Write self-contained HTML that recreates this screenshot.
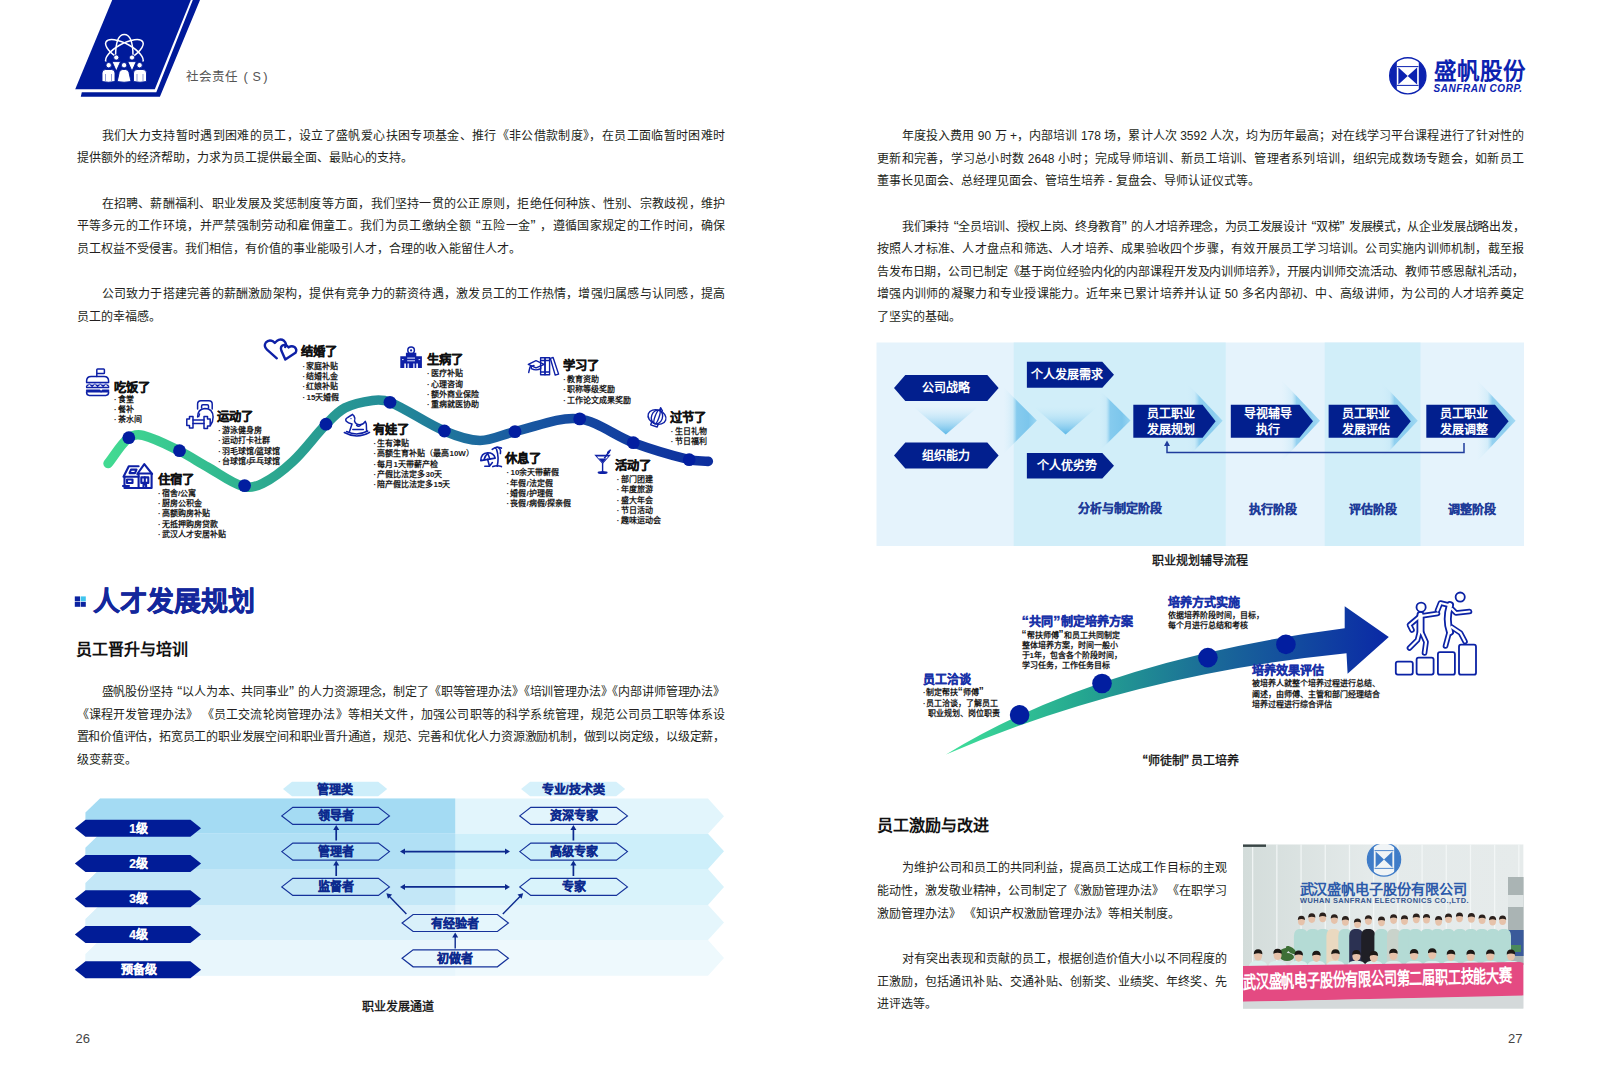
<!DOCTYPE html>
<html lang="zh-CN"><head><meta charset="utf-8">
<style>
html,body{margin:0;padding:0;background:#fff;}
body{width:1600px;height:1085px;position:relative;overflow:hidden;font-family:"Liberation Sans",sans-serif;}
.ln{position:absolute;line-height:20px;white-space:nowrap;}
.t{position:absolute;white-space:nowrap;}
.ql{display:inline-block;width:0.64em;font-size:1.25em;line-height:1px;text-align:right;text-align-last:right;}
.qr{display:inline-block;width:0.64em;font-size:1.25em;line-height:1px;text-align:left;text-align-last:left;}
.hv{-webkit-text-stroke:0.25px currentColor;}
.it{position:absolute;white-space:nowrap;font-size:8px;line-height:12px;color:#1a1a1a;font-weight:bold;}
.it .ql,.it .qr,.hd .ql,.hd .qr{width:0.5em;}
svg.ov{position:absolute;left:0;top:0;}
</style></head><body>

<svg class="ov" width="1600" height="1085" viewBox="0 0 1600 1085"><defs>
<linearGradient id="gWave" x1="108" y1="0" x2="710" y2="0" gradientUnits="userSpaceOnUse">
 <stop offset="0" stop-color="#42da92"/><stop offset="0.15" stop-color="#35c090"/><stop offset="0.3" stop-color="#2aa390"/>
 <stop offset="0.48" stop-color="#238a98"/><stop offset="0.66" stop-color="#1a5ea0"/><stop offset="0.8" stop-color="#1446a0"/><stop offset="1" stop-color="#0d2e9e"/>
</linearGradient>
<linearGradient id="gArrow" x1="946" y1="0" x2="1390" y2="0" gradientUnits="userSpaceOnUse">
 <stop offset="0" stop-color="#3fe09a"/><stop offset="0.3" stop-color="#25a890"/>
 <stop offset="0.6" stop-color="#1a6a98"/><stop offset="1" stop-color="#0a28a6"/>
</linearGradient>
<linearGradient id="gTriDown" x1="0" y1="0" x2="0" y2="1">
 <stop offset="0" stop-color="#bfe6f7" stop-opacity="0"/><stop offset="1" stop-color="#5db8e8"/>
</linearGradient>
<linearGradient id="gChev" x1="0" y1="0" x2="1" y2="0">
 <stop offset="0" stop-color="#d8f0fa" stop-opacity="0"/><stop offset="0.28" stop-color="#c4e7f7" stop-opacity="0.6"/><stop offset="0.4" stop-color="#86cbee"/><stop offset="0.75" stop-color="#7cc6ec"/><stop offset="1" stop-color="#9ad6f2"/>
</linearGradient>
<clipPath id="cLogo"><circle cx="1407.8" cy="75.8" r="18"/></clipPath>
</defs><polygon points="112.2,0 190.8,0 154.8,89.2 75.2,89.2" fill="#001a9a"/><polygon points="192.8,0 200,0 159.9,96.8 80.8,96.8 81.8,92.3 156.3,92.3" fill="#001a9a"/><g fill="none" stroke="#fff" stroke-width="1.5"><ellipse cx="124.4" cy="52" rx="21" ry="8.3" transform="rotate(29 124.4 52)"/><ellipse cx="124.4" cy="52" rx="21" ry="8.3" transform="rotate(-29 124.4 52)"/><path d="M115.6,56 Q115.6,34.5 124.3,34.5 Q133,34.5 133,56"/></g><rect x="100" y="61.5" width="50" height="25" fill="#001a9a"/><rect x="118" y="54.5" width="12.5" height="8" fill="#001a9a"/><g fill="#fff" stroke="#001a9a" stroke-width="0.9"><circle cx="116.3" cy="57.5" r="2.6"/><circle cx="132" cy="57.5" r="2.6"/><path d="M112,61.6 h8.6 l-4.3,9.5z"/><path d="M127.7,61.6 h8.6 l-4.3,9.5z"/><circle cx="108.7" cy="65.2" r="2.7"/><circle cx="124.1" cy="65.2" r="2.7"/><circle cx="139.6" cy="65.2" r="2.7"/><path d="M102,81.5 v-8.5 q0,-3.5 3.5,-3.5 h6 q3.5,0 3.5,3.5 v8.5 q-6.5,1.5 -13,0z"/><path d="M117.2,81.5 l2,-9 q0.8,-3 3.5,-3 h2.8 q2.7,0 3.5,3 l2,9 q-6.9,1.5 -13.8,0z"/><path d="M133.5,81.5 v-8.5 q0,-3.5 3.5,-3.5 h6 q3.5,0 3.5,3.5 v8.5 q-6.5,1.5 -13,0z"/></g><g stroke="#001a9a" stroke-width="0.7" opacity="0.6"><line x1="105.5" y1="74" x2="105.5" y2="81"/><line x1="111.5" y1="74" x2="111.5" y2="81"/><line x1="137" y1="74" x2="137" y2="81"/><line x1="143" y1="74" x2="143" y2="81"/></g><g clip-path="url(#cLogo)"><rect x="1388" y="56" width="8.8" height="40" fill="#0c22b0"/><rect x="1418.8" y="56" width="9" height="40" fill="#0c22b0"/></g><circle cx="1407.8" cy="75.8" r="18.1" fill="none" stroke="#0c22b0" stroke-width="1.4"/><g stroke="#0c22b0" stroke-width="1"><line x1="1397" y1="66.6" x2="1418.5" y2="66.6"/><line x1="1397" y1="85.4" x2="1418.5" y2="85.4"/></g><polygon points="1398.4,67.6 1407.7,76 1398.4,84.4" fill="#0c22b0"/><polygon points="1417.1,67.6 1407.7,76 1417.1,84.4" fill="#0c22b0"/><rect x="74.8" y="596.4" width="5.2" height="4.9" fill="#0b22a0"/><rect x="80.6" y="596.4" width="5.2" height="4.9" fill="#3fc4ee"/><rect x="74.8" y="601.9" width="5.2" height="4.9" fill="#0b22a0"/><rect x="80.6" y="601.9" width="5.2" height="4.9" fill="#0b22a0"/><path d="M108.1,463.5 C114.9,455.0 120.5,444.4 128.5,437.9 C132.1,435.0 138.4,434.2 143,435.4 C155.4,438.6 167.7,445.2 179.6,451 C189.2,455.7 198.1,461.8 207.5,467 C219.3,473.6 230.7,482.7 243,486.4 C249.0,488.2 256.8,486.4 262.5,483.5 C273.4,478.1 283.7,470.0 292.8,461.5 C304.9,450.3 314.4,436.3 326,424.4 C331.8,418.4 337.7,411.6 345,407.9 C353.3,403.6 363.3,401.6 372.6,400.4 C378.2,399.7 384.6,399.9 389.8,402.1 C408.5,410.1 425.6,423.0 444.4,431 C455.6,435.8 468.1,440.4 480,440.5 C491.6,440.6 503.2,434.2 515,431.6 C535.9,427.0 557.6,416.9 578,418.8 C597.1,420.6 614.5,435.8 633.3,442.7 C651.5,449.4 670.4,455.0 689.2,459.7 C695.4,461.2 701.9,460.8 708.3,461.4" fill="none" stroke="url(#gWave)" stroke-width="9.6" stroke-linecap="round"/><circle cx="128.8" cy="437.7" r="6.4" fill="#021ea0"/><circle cx="179.5" cy="450.7" r="6.4" fill="#021ea0"/><circle cx="244.6" cy="485.6" r="6.4" fill="#021ea0"/><circle cx="326" cy="424.2" r="6.4" fill="#021ea0"/><circle cx="390" cy="402.3" r="6.4" fill="#021ea0"/><circle cx="444.4" cy="431" r="6.4" fill="#021ea0"/><circle cx="515" cy="431.6" r="6.4" fill="#021ea0"/><circle cx="579.7" cy="418.9" r="6.4" fill="#021ea0"/><circle cx="633.3" cy="442.7" r="6.4" fill="#021ea0"/><circle cx="689.2" cy="459.7" r="6.4" fill="#021ea0"/><g fill="none" stroke="#0e20a6" stroke-width="1.5" stroke-linejoin="round" stroke-linecap="round"><rect x="96.8" y="369" width="7.6" height="4.6" rx="0.8"/><line x1="96.8" y1="373.6" x2="96.8" y2="376.5"/><path d="M86.6,382.6 v-1.5 q0,-4.6 4.6,-4.6 h12.8 q4.6,0 4.6,4.6 v1.5z"/><path d="M86.6,386.2 l2.75,-2.4 2.75,2.4 2.75,-2.4 2.75,2.4 2.75,-2.4 2.75,2.4 2.75,-2.4 2.75,2.4"/><path d="M86.6,387.6 h22 M86.6,390.3 h13 l1.5,1.5 l1.5,-1.5 h6"/><path d="M86.6,391.8 v0.8 q0,2.8 2.8,2.8 h16.4 q2.8,0 2.8,-2.8 v-0.8z"/></g><rect x="86.5" y="383" width="22" height="2" fill="#9aa4e6" opacity="0.6"/><g fill="none" stroke="#0e20a6" stroke-width="2.1" stroke-linejoin="round" stroke-linecap="round"><path d="M138.6,488 v-14.5 h13 v14.5z"/><path d="M137.3,474 l7,-9.8 l7.8,9.8"/><path d="M138.6,466.3 h-9.8 l-5.3,10.5 h15.1"/><path d="M131,469.6 h5.5 l-1.5,3.5 h-5.5z"/><path d="M124.5,477 v11 h14"/><rect x="127" y="479.5" width="5.5" height="3.5"/><rect x="141.3" y="477.4" width="7" height="5.5"/><line x1="144.8" y1="477.4" x2="144.8" y2="482.9"/><path d="M143.5,488 v-3.5 h2.6 v3.5"/><path d="M123,486 h6"/></g><g fill="none" stroke="#0e20a6" stroke-width="1.5" stroke-linejoin="round" stroke-linecap="round"><path d="M197.6,409 v-5 q0,-3.3 3.3,-3.3 h8 q3.3,0 3.3,3.3 v5"/><path d="M201.6,408 v-2 q0,-1.3 1.3,-1.3 h4.3 q1.3,0 1.3,1.3 v2"/><path d="M197.6,417 q0,-8 7.3,-8.5 q8,0 8.2,8.5 q0,5 -2.6,8.3"/><path d="M186.8,419 h2.7 v-2.5 h3.5 v11.5 h-3.5 v-2.5 h-2.7z"/><path d="M204,416.5 h3.5 v2.5 h2.7 v7 h-2.7 v2.5 h-3.5z"/><path d="M193,420 h11 M193,423.5 h11"/><path d="M199.5,414 l-0.8,2.5"/></g><g fill="none" stroke="#0e20a6" stroke-width="2.4" stroke-linejoin="round" stroke-linecap="round"><path d="M276.8,358.3 L267,349.6 Q263.3,346 265.8,342.6 Q268.8,339 273,341.3 L274.8,343 L276.8,341 Q280.5,338.3 284,340.8 Q287,343.5 285.2,347"/><path d="M285.3,359.6 L281.3,350.5 Q280,346.4 283.3,345.2 Q286.5,344.2 288.6,347.4 Q291.5,345.3 294.5,347 Q297.5,349.5 295.5,352.8z"/></g><g fill="none" stroke="#0e20a6" stroke-width="1.5" stroke-linejoin="round" stroke-linecap="round"><path d="M344.3,432.5 Q357,439.5 369.6,432.3"/><path d="M346.5,431.5 Q357,436.5 367.8,431"/><path d="M349.5,431.5 L352,424 Q348,423 346.3,421.3 Q344.8,419 347.5,417.6 L351.6,415 L352.5,414.4 L354,416 Q355.6,418.5 354.5,421 Q356,425 360,424.8 Q363.5,424.5 365.3,421.4 L366.3,424 L366.6,431"/><path d="M352.8,429.6 h10.5"/><path d="M356.6,425.2 q1.8,2.2 4,0"/></g><circle cx="351" cy="418.6" r="0.7" fill="#0e20a6"/><g fill="#0e20a6"><path d="M400.3,356.3 h5.6 v-3.6 h10.4 v3.6 h5.6 v11.7 h-4 v-4.5 h-1.6 v4.5 h-10.4 v-4.5 h-1.6 v4.5 h-4z"/></g><g fill="none" stroke="#0e20a6" stroke-width="1.5" stroke-linejoin="round" stroke-linecap="round"><circle cx="411.1" cy="350.2" r="3.3"/></g><circle cx="411.1" cy="350.4" r="1.1" fill="#0e20a6"/><g fill="#c8d0f5"><rect x="407.2" y="357.5" width="7.8" height="1.2"/><rect x="407.2" y="360.2" width="7.8" height="1.1"/><rect x="407.5" y="363.5" width="1.6" height="4.5"/><rect x="413.1" y="363.5" width="1.6" height="4.5"/><rect x="402" y="359" width="1.6" height="1.1"/><rect x="418.6" y="359" width="1.6" height="1.1"/></g><g fill="none" stroke="#0e20a6" stroke-width="1.4" stroke-linejoin="round" stroke-linecap="round"><path d="M528.3,364.3 l7.7,-3.6 l8.2,3.6 l-8.2,3.6z"/><path d="M531.3,366.2 v2.5 q4.7,2.4 9.4,0 v-2.5"/><path d="M534,365.5 l-4,1.5 l-1.3,5.5"/><rect x="540.6" y="357.8" width="4.4" height="17"/><rect x="545" y="357.8" width="4.6" height="17"/><path d="M550.3,358.3 l2.8,-0.8 l5.5,16.6 l-3.4,1z"/><path d="M541,372 h8 M541,360.5 h8"/></g><g fill="none" stroke="#0e20a6" stroke-width="1.6" stroke-linejoin="round" stroke-linecap="round"><path d="M480.8,460.6 q0.2,-7.4 6.8,-7.8 q6.2,0 7.6,5.3 z"/><path d="M484,459.8 q1.2,-4.5 3.6,-6.5 q1.6,3.2 2.2,5.8"/><path d="M487.6,459.3 l1.8,6.5"/><path d="M484.8,466.2 h4.6 l3,-3.6"/><path d="M492.2,449.3 q4.2,-3.3 9.2,-1.2"/><path d="M495.6,448.3 q1.5,-2.5 4.3,0.7 q1.3,2.5 0.5,4.5"/><path d="M496.6,449.6 q2.6,8 0.6,16.6"/><path d="M492.8,466.6 q4.4,-1.6 8.6,0"/></g><g fill="#0e20a6"><path d="M594.3,454.8 h16.6 l-8.3,9.2z"/><rect x="601.9" y="463" width="1.4" height="9.3"/><ellipse cx="602.6" cy="472.6" rx="5" ry="1.5"/></g><path d="M596.9,456.4 h11.4 l-5.7,6.3z" fill="#fff"/><path d="M598.6,458.6 h8 l-4,4.3z" fill="#0e20a6"/><line x1="604.3" y1="458.2" x2="610.6" y2="449.6" stroke="#0e20a6" stroke-width="1.5"/><ellipse cx="608.5" cy="452.2" rx="1.2" ry="1.9" transform="rotate(35 608.5 452.2)" fill="#0e20a6"/><g fill="none" stroke="#0e20a6" stroke-width="1.4" stroke-linejoin="round" stroke-linecap="round"><ellipse cx="657" cy="417" rx="9.2" ry="7" transform="rotate(20 657 417)"/><ellipse cx="657" cy="417" rx="5.5" ry="7" transform="rotate(20 657 417)"/><ellipse cx="657" cy="417" rx="2" ry="7" transform="rotate(20 657 417)"/><path d="M651.5,422.5 l-0.8,2.3 l6.5,2.2 l0.8,-2.3"/><path d="M659.6,410.3 l1,-2.6 l1.8,3.2"/></g><polygon points="100,798.6 708,798.6 724,816.1500000000001 708,833.7 100,833.7 85.5,819.7 85.5,812.6" fill="#e2f5fc"/><polygon points="100,798.6 455.2,798.6 455.2,833.7 100,833.7 85.5,819.7 85.5,812.6" fill="#a4dbf3"/><polygon points="100,833.7 708,833.7 724,851.35 708,869 100,869 85.5,855 85.5,847.7" fill="#cdeffa"/><polygon points="100,833.7 455.2,833.7 455.2,869 100,869 85.5,855 85.5,847.7" fill="#b1e0f5"/><polygon points="100,869 708,869 724,887.0 708,905 100,905 85.5,891 85.5,883" fill="#d9f3fb"/><polygon points="100,869 455.2,869 455.2,905 100,905 85.5,891 85.5,883" fill="#c3e7f7"/><polygon points="100,905 708,905 724,922.5 708,940 100,940 85.5,926 85.5,919" fill="#e5f6fc"/><polygon points="100,905 455.2,905 455.2,940 100,940 85.5,926 85.5,919" fill="#d9f0fa"/><polygon points="100,940 708,940 724,957.9 708,975.8 100,975.8 85.5,961.8 85.5,954" fill="#eef9fd"/><polygon points="100,940 455.2,940 455.2,975.8 100,975.8 85.5,961.8 85.5,954" fill="#e8f6fc"/><polygon points="74.9,828.2 85.5,819.7 190.4,819.7 201.1,828.2 190.4,836.7 85.5,836.7" fill="#011c97"/><polygon points="74.9,863.5 85.5,855.0 190.4,855.0 201.1,863.5 190.4,872.0 85.5,872.0" fill="#011c97"/><polygon points="74.9,898.8 85.5,890.3 190.4,890.3 201.1,898.8 190.4,907.3 85.5,907.3" fill="#011c97"/><polygon points="74.9,934.5 85.5,926.0 190.4,926.0 201.1,934.5 190.4,943.0 85.5,943.0" fill="#011c97"/><polygon points="74.9,969.7 85.5,961.2 190.4,961.2 201.1,969.7 190.4,978.2 85.5,978.2" fill="#011c97"/><polygon points="283,789 292,781.75 378.2,781.75 387.2,789 378.2,796.25 292,796.25" fill="#cdeefa" stroke="none" stroke-width="1.2"/><polygon points="521.1,789 530.1,781.75 616.2,781.75 625.2,789 616.2,796.25 530.1,796.25" fill="#d6f1fb" stroke="none" stroke-width="1.2"/><polygon points="281.8,815.9 292.8,807.4 378.4,807.4 389.4,815.9 378.4,824.4 292.8,824.4" fill="none" stroke="#15329a" stroke-width="1.2"/><polygon points="519.8,815.9 530.8,807.4 616.4,807.4 627.4,815.9 616.4,824.4 530.8,824.4" fill="none" stroke="#15329a" stroke-width="1.2"/><polygon points="281.8,851.6 292.8,843.1 378.4,843.1 389.4,851.6 378.4,860.1 292.8,860.1" fill="none" stroke="#15329a" stroke-width="1.2"/><polygon points="519.8,851.6 530.8,843.1 616.4,843.1 627.4,851.6 616.4,860.1 530.8,860.1" fill="none" stroke="#15329a" stroke-width="1.2"/><polygon points="281.8,886.9 292.8,878.4 378.4,878.4 389.4,886.9 378.4,895.4 292.8,895.4" fill="none" stroke="#15329a" stroke-width="1.2"/><polygon points="519.8,886.9 530.8,878.4 616.4,878.4 627.4,886.9 616.4,895.4 530.8,895.4" fill="none" stroke="#15329a" stroke-width="1.2"/><polygon points="402.1,923 413.1,914.5 497.4,914.5 508.4,923 497.4,931.5 413.1,931.5" fill="none" stroke="#15329a" stroke-width="1.2"/><polygon points="402.1,958.3 413.1,949.8 497.4,949.8 508.4,958.3 497.4,966.8 413.1,966.8" fill="none" stroke="#15329a" stroke-width="1.2"/><line x1="336.2" y1="840.5" x2="336.2" y2="829" stroke="#0d2a8e" stroke-width="1.7"/><polygon points="336.2,825.0 339.2,830.0 333.2,830.0" fill="#0d2a8e"/><line x1="336.2" y1="876" x2="336.2" y2="864.5" stroke="#0d2a8e" stroke-width="1.7"/><polygon points="336.2,860.5 339.2,865.5 333.2,865.5" fill="#0d2a8e"/><line x1="573.4" y1="840.5" x2="573.4" y2="829" stroke="#0d2a8e" stroke-width="1.7"/><polygon points="573.4,825.0 576.4,830.0 570.4,830.0" fill="#0d2a8e"/><line x1="573.4" y1="876" x2="573.4" y2="864.5" stroke="#0d2a8e" stroke-width="1.7"/><polygon points="573.4,860.5 576.4,865.5 570.4,865.5" fill="#0d2a8e"/><line x1="455.2" y1="948.5" x2="455.2" y2="936.5" stroke="#0d2a8e" stroke-width="1.4"/><polygon points="455.2,932.5 458.2,937.5 452.2,937.5" fill="#0d2a8e"/><line x1="404" y1="851.6" x2="506" y2="851.6" stroke="#0d2a8e" stroke-width="1.6"/><polygon points="400.0,851.6 405.0,848.6 405.0,854.6" fill="#0d2a8e"/><polygon points="510.0,851.6 505.0,854.6 505.0,848.6" fill="#0d2a8e"/><line x1="404" y1="886.9" x2="506" y2="886.9" stroke="#0d2a8e" stroke-width="1.6"/><polygon points="400.0,886.9 405.0,883.9 405.0,889.9" fill="#0d2a8e"/><polygon points="510.0,886.9 505.0,889.9 505.0,883.9" fill="#0d2a8e"/><line x1="406.4" y1="914" x2="389" y2="896" stroke="#0d2a8e" stroke-width="1.4"/><polygon points="386.4,893.2 392.1,894.5 388.0,898.8" fill="#0d2a8e"/><line x1="502.8" y1="914" x2="520.5" y2="896" stroke="#0d2a8e" stroke-width="1.4"/><polygon points="523.2,893.2 521.6,898.8 517.5,894.5" fill="#0d2a8e"/><rect x="876.5" y="342.5" width="647.5" height="203.5" fill="#e5f3fc"/><rect x="1013.7" y="342.5" width="212" height="203.5" fill="#d1eef9"/><rect x="1324.7" y="342.5" width="95.8" height="203.5" fill="#d1eef9"/><polygon points="1003.3,387 1036.8,420.5 1003.3,454" fill="url(#gChev)"/><polygon points="1096.5,387 1130.5,420.5 1096.5,454" fill="url(#gChev)"/><polygon points="1183.6,379.5 1222.6,420.8 1183.6,462" fill="url(#gChev)" opacity="0.85"/><polygon points="1281,379.5 1320,420.8 1281,462" fill="url(#gChev)" opacity="0.85"/><polygon points="1378.8,379.5 1417.8,420.8 1378.8,462" fill="url(#gChev)" opacity="0.85"/><polygon points="1476.6,379.5 1515.6,420.8 1476.6,462" fill="url(#gChev)" opacity="0.85"/><polygon points="913,406.4 978.4,406.4 945.8,434.5" fill="url(#gTriDown)"/><polygon points="1033.6,406.4 1097.8,406.4 1065.6,434.5" fill="url(#gTriDown)"/><polygon points="894,387.9 905.3,374.9 987.3000000000001,374.9 998.6,387.9 987.3000000000001,400.9 905.3,400.9" fill="#021f8e" stroke="none" stroke-width="1.2"/><polygon points="894,455.4 905.3,442.4 987.3000000000001,442.4 998.6,455.4 987.3000000000001,468.4 905.3,468.4" fill="#021f8e" stroke="none" stroke-width="1.2"/><polygon points="1026.9,361.8 1102.3,361.8 1114,374.75 1102.3,387.7 1026.9,387.7" fill="#021f8e"/><polygon points="1026.9,453 1102.3,453 1114,465.75 1102.3,478.5 1026.9,478.5" fill="#021f8e"/><polygon points="1133.3,404.8 1202.6,404.8 1215.6,421.3 1202.6,437.8 1133.3,437.8" fill="#021f8e"/><polygon points="1230.8,404.8 1299.5,404.8 1313,421.3 1299.5,437.8 1230.8,437.8" fill="#021f8e"/><polygon points="1328.6,404.8 1397.3,404.8 1410.8,421.3 1397.3,437.8 1328.6,437.8" fill="#021f8e"/><polygon points="1426.3,404.8 1495,404.8 1508.6,421.3 1495,437.8 1426.3,437.8" fill="#021f8e"/><polyline points="1464,443 1464,452.5 1167,452.5 1167,445" fill="none" stroke="#1f3c9c" stroke-width="1.5"/><polygon points="1167,440.5 1164,446 1170,446" fill="#1f3c9c"/><path d="M946,754.5 Q1100,660 1344.7,628.2 L1344.7,606.2 L1388.8,637 L1347.6,673.8 L1346.5,653.2 Q1130,675 946,754.5z" fill="url(#gArrow)"/><circle cx="1019.6" cy="714.9" r="9.8" fill="#021ea0"/><circle cx="1102" cy="683.5" r="9.8" fill="#021ea0"/><circle cx="1207.9" cy="657.6" r="9.8" fill="#021ea0"/><circle cx="1285.9" cy="644.4" r="9.8" fill="#021ea0"/><path d="M1421,616 L1437.5,613.5 M1419,617 L1409.5,625 L1412,630 M1419.5,632 L1417.5,640 L1409.5,648 M1421.5,632 L1426,642 L1424.5,653 M1448.5,605 L1440.5,603 L1437.5,610.5 M1452,609 L1456,613 L1469.5,611.5 M1449,633 L1445.5,646 M1451.5,627 L1460.5,633 L1465,641.5" fill="none" stroke="#0b22a5" stroke-width="5.6" stroke-linecap="round" stroke-linejoin="round"/><path d="M1420.5,615 L1420.5,631 M1450,605 Q1445.5,620 1450,632" fill="none" stroke="#0b22a5" stroke-width="8" stroke-linecap="round" stroke-linejoin="round"/><path d="M1421,616 L1437.5,613.5 M1419,617 L1409.5,625 L1412,630 M1419.5,632 L1417.5,640 L1409.5,648 M1421.5,632 L1426,642 L1424.5,653 M1448.5,605 L1440.5,603 L1437.5,610.5 M1452,609 L1456,613 L1469.5,611.5 M1449,633 L1445.5,646 M1451.5,627 L1460.5,633 L1465,641.5" fill="none" stroke="#fff" stroke-width="2.2" stroke-linecap="round" stroke-linejoin="round"/><path d="M1420.5,615 L1420.5,631 M1450,605 Q1445.5,620 1450,632" fill="none" stroke="#fff" stroke-width="4.4" stroke-linecap="round" stroke-linejoin="round"/><g fill="none" stroke="#0b22a5" stroke-width="1.8" stroke-linejoin="round" stroke-linecap="round"><rect x="1395.8" y="661.6" width="17" height="13" rx="2"/><rect x="1416.6" y="657.6" width="17" height="17" rx="2"/><rect x="1437.9" y="652.2" width="17" height="22.5" rx="2"/><rect x="1459" y="644.7" width="17" height="30" rx="2"/><circle cx="1421.1" cy="607.2" r="4.6"/><circle cx="1460.2" cy="597.1" r="4.6"/></g></svg>
<div class="ln" style="left:101.5px;top:125.7px;width:623.5px;font-size:12px;color:#231f20;text-align:justify;text-align-last:justify;">我们大力支持暂时遇到困难的员工，设立了盛帆爱心扶困专项基金、推行《非公借款制度》，在员工面临暂时困难时</div>
<div class="ln" style="left:76.5px;top:148.3px;width:648.5px;font-size:12px;color:#231f20;">提供额外的经济帮助，力求为员工提供最全面、最贴心的支持。</div>
<div class="ln" style="left:101.5px;top:193.6px;width:623.5px;font-size:12px;color:#231f20;text-align:justify;text-align-last:justify;">在招聘、薪酬福利、职业发展及奖惩制度等方面，我们坚持一贯的公正原则，拒绝任何种族、性别、宗教歧视，维护</div>
<div class="ln" style="left:76.5px;top:216.3px;width:648.5px;font-size:12px;color:#231f20;text-align:justify;text-align-last:justify;">平等多元的工作环境，并严禁强制劳动和雇佣童工。我们为员工缴纳全额<span class="ql">“</span>五险一金<span class="qr">”</span>，遵循国家规定的工作时间，确保</div>
<div class="ln" style="left:76.5px;top:238.9px;width:648.5px;font-size:12px;color:#231f20;">员工权益不受侵害。我们相信，有价值的事业能吸引人才，合理的收入能留住人才。</div>
<div class="ln" style="left:101.5px;top:284.2px;width:623.5px;font-size:12px;color:#231f20;text-align:justify;text-align-last:justify;">公司致力于搭建完善的薪酬激励架构，提供有竞争力的薪资待遇，激发员工的工作热情，增强归属感与认同感，提高</div>
<div class="ln" style="left:76.5px;top:306.9px;width:648.5px;font-size:12px;color:#231f20;">员工的幸福感。</div>
<div class="ln" style="left:101.5px;top:682.1px;width:623.5px;font-size:12px;color:#231f20;text-align:justify;text-align-last:justify;letter-spacing:-0.163px;">盛帆股份坚持<span class="ql">“</span>以人为本、共同事业<span class="qr">”</span>的人力资源理念，制定了《职等管理办法》《培训管理办法》《内部讲师管理办法》</div>
<div class="ln" style="left:76.5px;top:704.8px;width:648.5px;font-size:12px;color:#231f20;text-align:justify;text-align-last:justify;">《课程开发管理办法》 《员工交流轮岗管理办法》等相关文件，加强公司职等的科学系统管理，规范公司员工职等体系设</div>
<div class="ln" style="left:76.5px;top:727.4px;width:648.5px;font-size:12px;color:#231f20;text-align:justify;text-align-last:justify;letter-spacing:-0.229px;">置和价值评估，拓宽员工的职业发展空间和职业晋升通道，规范、完善和优化人力资源激励机制，做到以岗定级，以级定薪，</div>
<div class="ln" style="left:76.5px;top:750.0px;width:648.5px;font-size:12px;color:#231f20;">级变薪变。</div>
<div class="t" style="left:92.5px;top:586.0px;font-size:27px;line-height:32px;color:#13279c;font-weight:bold;-webkit-text-stroke:0.5px #13279c;">人才发展规划</div>
<div class="t" style="left:75.5px;top:639.8px;font-size:16px;line-height:20px;color:#111;font-weight:bold;">员工晋升与培训</div>
<div class="t" style="left:247.5px;top:996.5px;width:300px;text-align:center;font-size:12px;line-height:20px;color:#111;-webkit-text-stroke:0.35px #111;">职业发展通道</div>
<div class="t" style="left:75.5px;top:1028.5px;font-size:13px;line-height:20px;color:#444;">26</div>
<div class="t" style="left:185.5px;top:67.0px;font-size:12.5px;line-height:20px;color:#555;">社会责任</div>
<div class="t" style="left:243.6px;top:67.3px;font-size:13px;line-height:20px;color:#555;">(</div>
<div class="t" style="left:252.5px;top:67.3px;font-size:12.5px;line-height:20px;color:#555;">S</div>
<div class="t" style="left:263.2px;top:67.3px;font-size:13px;line-height:20px;color:#555;">)</div>
<div class="ln" style="left:902.0px;top:125.9px;width:622.0px;font-size:12px;color:#231f20;text-align:justify;text-align-last:justify;">年度投入费用 90 万 +，内部培训 178 场，累计人次 3592 人次，均为历年最高；对在线学习平台课程进行了针对性的</div>
<div class="ln" style="left:877.0px;top:148.6px;width:647.0px;font-size:12px;color:#231f20;text-align:justify;text-align-last:justify;">更新和完善，学习总小时数 2648 小时；完成导师培训、新员工培训、管理者系列培训，组织完成数场专题会，如新员工</div>
<div class="ln" style="left:877.0px;top:171.2px;width:647.0px;font-size:12px;color:#231f20;">董事长见面会、总经理见面会、管培生培养 - 复盘会、导师认证仪式等。</div>
<div class="ln" style="left:902.0px;top:216.5px;width:622.0px;font-size:12px;color:#231f20;text-align:justify;text-align-last:justify;letter-spacing:-0.324px;">我们秉持<span class="ql">“</span>全员培训、授权上岗、终身教育<span class="qr">”</span>的人才培养理念，为员工发展设计<span class="ql">“</span>双梯<span class="qr">”</span>发展模式，从企业发展战略出发，</div>
<div class="ln" style="left:877.0px;top:239.2px;width:647.0px;font-size:12px;color:#231f20;text-align:justify;text-align-last:justify;">按照人才标准、人才盘点和筛选、人才培养、成果验收四个步骤，有效开展员工学习培训。公司实施内训师机制，截至报</div>
<div class="ln" style="left:877.0px;top:261.8px;width:647.0px;font-size:12px;color:#231f20;text-align:justify;text-align-last:justify;letter-spacing:-0.147px;">告发布日期，公司已制定《基于岗位经验内化的内部课程开发及内训师培养》，开展内训师交流活动、教师节感恩献礼活动，</div>
<div class="ln" style="left:877.0px;top:284.4px;width:647.0px;font-size:12px;color:#231f20;text-align:justify;text-align-last:justify;">增强内训师的凝聚力和专业授课能力。近年来已累计培养并认证 50 多名内部初、中、高级讲师，为公司的人才培养奠定</div>
<div class="ln" style="left:877.0px;top:307.1px;width:647.0px;font-size:12px;color:#231f20;">了坚实的基础。</div>
<div class="t" style="left:876.5px;top:815.9px;font-size:16px;line-height:20px;color:#111;font-weight:bold;">员工激励与改进</div>
<div class="ln" style="left:902.0px;top:858.3px;width:324.6px;font-size:12px;color:#231f20;text-align:justify;text-align-last:justify;">为维护公司和员工的共同利益，提高员工达成工作目标的主观</div>
<div class="ln" style="left:877.0px;top:880.9px;width:349.6px;font-size:12px;color:#231f20;text-align:justify;text-align-last:justify;letter-spacing:-0.077px;">能动性，激发敬业精神，公司制定了《激励管理办法》 《在职学习</div>
<div class="ln" style="left:877.0px;top:903.6px;width:349.6px;font-size:12px;color:#231f20;">激励管理办法》 《知识产权激励管理办法》等相关制度。</div>
<div class="ln" style="left:902.0px;top:948.9px;width:324.6px;font-size:12px;color:#231f20;text-align:justify;text-align-last:justify;">对有突出表现和贡献的员工，根据创造价值大小以不同程度的</div>
<div class="ln" style="left:877.0px;top:971.5px;width:349.6px;font-size:12px;color:#231f20;text-align:justify;text-align-last:justify;">正激励，包括通讯补贴、交通补贴、创新奖、业绩奖、年终奖、先</div>
<div class="ln" style="left:877.0px;top:994.2px;width:349.6px;font-size:12px;color:#231f20;">进评选等。</div>
<div class="t" style="left:1508.0px;top:1028.5px;font-size:13px;line-height:20px;color:#444;">27</div>
<div class="t" style="left:1433.5px;top:58.5px;font-size:22.5px;line-height:26px;color:#0c22b0;font-weight:bold;letter-spacing:0px;">盛帆股份</div>
<div class="t" style="left:1433.5px;top:83.3px;font-size:10px;line-height:12px;color:#0c22b0;font-weight:bold;font-style:italic;letter-spacing:0.55px;">SANFRAN CORP.</div>
<div class="t" style="left:113.8px;top:379.5px;font-size:12.3px;line-height:16px;color:#111;font-weight:bold;-webkit-text-stroke:0.3px #111;">吃饭了</div>
<div class="it" style="left:114.0px;top:394.1px;">·<span style="margin-left:1.3px">食堂</span></div>
<div class="it" style="left:114.0px;top:404.2px;">·<span style="margin-left:1.3px">餐补</span></div>
<div class="it" style="left:114.0px;top:414.2px;">·<span style="margin-left:1.3px">茶水间</span></div>
<div class="t" style="left:157.5px;top:472.4px;font-size:12.3px;line-height:16px;color:#111;font-weight:bold;-webkit-text-stroke:0.3px #111;">住宿了</div>
<div class="it" style="left:158.0px;top:487.5px;">·<span style="margin-left:1.3px">宿舍/公寓</span></div>
<div class="it" style="left:158.0px;top:497.9px;">·<span style="margin-left:1.3px">厨房公积金</span></div>
<div class="it" style="left:158.0px;top:508.3px;">·<span style="margin-left:1.3px">高额购房补贴</span></div>
<div class="it" style="left:158.0px;top:518.7px;">·<span style="margin-left:1.3px">无抵押购房贷款</span></div>
<div class="it" style="left:158.0px;top:529.1px;">·<span style="margin-left:1.3px">武汉人才安居补贴</span></div>
<div class="t" style="left:217.0px;top:408.9px;font-size:12.3px;line-height:16px;color:#111;font-weight:bold;-webkit-text-stroke:0.3px #111;">运动了</div>
<div class="it" style="left:218.3px;top:424.7px;">·<span style="margin-left:1.3px">游泳健身房</span></div>
<div class="it" style="left:218.3px;top:435.1px;">·<span style="margin-left:1.3px">运动打卡社群</span></div>
<div class="it" style="left:218.3px;top:445.5px;">·<span style="margin-left:1.3px">羽毛球馆/篮球馆</span></div>
<div class="it" style="left:218.3px;top:455.9px;">·<span style="margin-left:1.3px">台球馆/乒乓球馆</span></div>
<div class="t" style="left:300.8px;top:344.4px;font-size:12.3px;line-height:16px;color:#111;font-weight:bold;-webkit-text-stroke:0.3px #111;">结婚了</div>
<div class="it" style="left:302.5px;top:360.6px;">·<span style="margin-left:1.3px">家庭补贴</span></div>
<div class="it" style="left:302.5px;top:371.0px;">·<span style="margin-left:1.3px">结婚礼金</span></div>
<div class="it" style="left:302.5px;top:381.3px;">·<span style="margin-left:1.3px">红娘补贴</span></div>
<div class="it" style="left:302.5px;top:391.7px;">·<span style="margin-left:1.3px">15天婚假</span></div>
<div class="t" style="left:373.0px;top:422.1px;font-size:12.3px;line-height:16px;color:#111;font-weight:bold;-webkit-text-stroke:0.3px #111;">有娃了</div>
<div class="it" style="left:373.5px;top:437.8px;">·<span style="margin-left:1.3px">生有津贴</span></div>
<div class="it" style="left:373.5px;top:448.2px;">·<span style="margin-left:1.3px">高额生育补贴（最高10W）</span></div>
<div class="it" style="left:373.5px;top:458.5px;">·<span style="margin-left:1.3px">每月1天带薪产检</span></div>
<div class="it" style="left:373.5px;top:468.9px;">·<span style="margin-left:1.3px">产假比法定多30天</span></div>
<div class="it" style="left:373.5px;top:479.2px;">·<span style="margin-left:1.3px">陪产假比法定多15天</span></div>
<div class="t" style="left:426.7px;top:352.3px;font-size:12.3px;line-height:16px;color:#111;font-weight:bold;-webkit-text-stroke:0.3px #111;">生病了</div>
<div class="it" style="left:427.0px;top:368.3px;">·<span style="margin-left:1.3px">医疗补贴</span></div>
<div class="it" style="left:427.0px;top:378.6px;">·<span style="margin-left:1.3px">心理咨询</span></div>
<div class="it" style="left:427.0px;top:388.8px;">·<span style="margin-left:1.3px">额外商业保险</span></div>
<div class="it" style="left:427.0px;top:399.1px;">·<span style="margin-left:1.3px">重病就医协助</span></div>
<div class="t" style="left:563.0px;top:358.4px;font-size:12.3px;line-height:16px;color:#111;font-weight:bold;-webkit-text-stroke:0.3px #111;">学习了</div>
<div class="it" style="left:563.2px;top:373.9px;">·<span style="margin-left:1.3px">教育资助</span></div>
<div class="it" style="left:563.2px;top:384.2px;">·<span style="margin-left:1.3px">职称等级奖励</span></div>
<div class="it" style="left:563.2px;top:394.5px;">·<span style="margin-left:1.3px">工作论文成果奖励</span></div>
<div class="t" style="left:669.5px;top:409.5px;font-size:12.3px;line-height:16px;color:#111;font-weight:bold;-webkit-text-stroke:0.3px #111;">过节了</div>
<div class="it" style="left:670.8px;top:425.7px;">·<span style="margin-left:1.3px">生日礼物</span></div>
<div class="it" style="left:670.8px;top:435.8px;">·<span style="margin-left:1.3px">节日福利</span></div>
<div class="t" style="left:505.0px;top:451.4px;font-size:12.3px;line-height:16px;color:#111;font-weight:bold;-webkit-text-stroke:0.3px #111;">休息了</div>
<div class="it" style="left:506.5px;top:467.3px;">·<span style="margin-left:1.3px">10余天带薪假</span></div>
<div class="it" style="left:506.5px;top:477.6px;">·<span style="margin-left:1.3px">年假/法定假</span></div>
<div class="it" style="left:506.5px;top:488.0px;">·<span style="margin-left:1.3px">婚假/护理假</span></div>
<div class="it" style="left:506.5px;top:498.3px;">·<span style="margin-left:1.3px">丧假/病假/探亲假</span></div>
<div class="t" style="left:615.4px;top:457.5px;font-size:12.3px;line-height:16px;color:#111;font-weight:bold;-webkit-text-stroke:0.3px #111;">活动了</div>
<div class="it" style="left:616.8px;top:474.1px;">·<span style="margin-left:1.3px">部门团建</span></div>
<div class="it" style="left:616.8px;top:484.3px;">·<span style="margin-left:1.3px">年度旅游</span></div>
<div class="it" style="left:616.8px;top:494.5px;">·<span style="margin-left:1.3px">盛大年会</span></div>
<div class="it" style="left:616.8px;top:504.7px;">·<span style="margin-left:1.3px">节日活动</span></div>
<div class="it" style="left:616.8px;top:514.9px;">·<span style="margin-left:1.3px">趣味运动会</span></div>
<div class="t" style="left:78.6px;top:820.7px;width:120px;text-align:center;font-size:12px;line-height:16px;color:#fff;font-weight:bold;-webkit-text-stroke:0.2px #fff;">1级</div>
<div class="t" style="left:78.6px;top:856.0px;width:120px;text-align:center;font-size:12px;line-height:16px;color:#fff;font-weight:bold;-webkit-text-stroke:0.2px #fff;">2级</div>
<div class="t" style="left:78.6px;top:891.3px;width:120px;text-align:center;font-size:12px;line-height:16px;color:#fff;font-weight:bold;-webkit-text-stroke:0.2px #fff;">3级</div>
<div class="t" style="left:78.6px;top:927.0px;width:120px;text-align:center;font-size:12px;line-height:16px;color:#fff;font-weight:bold;-webkit-text-stroke:0.2px #fff;">4级</div>
<div class="t" style="left:78.6px;top:962.2px;width:120px;text-align:center;font-size:12px;line-height:16px;color:#fff;font-weight:bold;-webkit-text-stroke:0.2px #fff;">预备级</div>
<div class="t" style="left:285.1px;top:781.5px;width:100px;text-align:center;font-size:12px;line-height:16px;color:#0d2a8e;font-weight:bold;-webkit-text-stroke:0.3px #0d2a8e;">管理类</div>
<div class="t" style="left:523.2px;top:781.5px;width:100px;text-align:center;font-size:12px;line-height:16px;color:#0d2a8e;font-weight:bold;-webkit-text-stroke:0.3px #0d2a8e;">专业/技术类</div>
<div class="t" style="left:285.6px;top:808.4px;width:100px;text-align:center;font-size:12px;line-height:16px;color:#0d2a8e;font-weight:bold;-webkit-text-stroke:0.3px #0d2a8e;">领导者</div>
<div class="t" style="left:523.6px;top:808.4px;width:100px;text-align:center;font-size:12px;line-height:16px;color:#0d2a8e;font-weight:bold;-webkit-text-stroke:0.3px #0d2a8e;">资深专家</div>
<div class="t" style="left:285.6px;top:844.1px;width:100px;text-align:center;font-size:12px;line-height:16px;color:#0d2a8e;font-weight:bold;-webkit-text-stroke:0.3px #0d2a8e;">管理者</div>
<div class="t" style="left:523.6px;top:844.1px;width:100px;text-align:center;font-size:12px;line-height:16px;color:#0d2a8e;font-weight:bold;-webkit-text-stroke:0.3px #0d2a8e;">高级专家</div>
<div class="t" style="left:285.6px;top:879.4px;width:100px;text-align:center;font-size:12px;line-height:16px;color:#0d2a8e;font-weight:bold;-webkit-text-stroke:0.3px #0d2a8e;">监督者</div>
<div class="t" style="left:523.6px;top:879.4px;width:100px;text-align:center;font-size:12px;line-height:16px;color:#0d2a8e;font-weight:bold;-webkit-text-stroke:0.3px #0d2a8e;">专家</div>
<div class="t" style="left:405.2px;top:915.5px;width:100px;text-align:center;font-size:12px;line-height:16px;color:#0d2a8e;font-weight:bold;-webkit-text-stroke:0.3px #0d2a8e;">有经验者</div>
<div class="t" style="left:405.2px;top:950.8px;width:100px;text-align:center;font-size:12px;line-height:16px;color:#0d2a8e;font-weight:bold;-webkit-text-stroke:0.3px #0d2a8e;">初做者</div>
<div class="t" style="left:896.3px;top:380.4px;width:100px;text-align:center;font-size:12px;line-height:16px;color:#fff;font-weight:bold;">公司战略</div>
<div class="t" style="left:896.3px;top:447.9px;width:100px;text-align:center;font-size:12px;line-height:16px;color:#fff;font-weight:bold;">组织能力</div>
<div class="t" style="left:1017.0px;top:367.3px;width:100px;text-align:center;font-size:12px;line-height:16px;color:#fff;font-weight:bold;">个人发展需求</div>
<div class="t" style="left:1016.8px;top:458.3px;width:100px;text-align:center;font-size:12px;line-height:16px;color:#fff;font-weight:bold;">个人优劣势</div>
<div class="t" style="left:1120.5px;top:405.7px;width:100px;text-align:center;font-size:12px;line-height:16px;color:#fff;font-weight:bold;">员工职业</div>
<div class="t" style="left:1120.5px;top:421.5px;width:100px;text-align:center;font-size:12px;line-height:16px;color:#fff;font-weight:bold;">发展规划</div>
<div class="t" style="left:1218.0px;top:405.7px;width:100px;text-align:center;font-size:12px;line-height:16px;color:#fff;font-weight:bold;">导视辅导</div>
<div class="t" style="left:1218.0px;top:421.5px;width:100px;text-align:center;font-size:12px;line-height:16px;color:#fff;font-weight:bold;">执行</div>
<div class="t" style="left:1315.8px;top:405.7px;width:100px;text-align:center;font-size:12px;line-height:16px;color:#fff;font-weight:bold;">员工职业</div>
<div class="t" style="left:1315.8px;top:421.5px;width:100px;text-align:center;font-size:12px;line-height:16px;color:#fff;font-weight:bold;">发展评估</div>
<div class="t" style="left:1413.5px;top:405.7px;width:100px;text-align:center;font-size:12px;line-height:16px;color:#fff;font-weight:bold;">员工职业</div>
<div class="t" style="left:1413.5px;top:421.5px;width:100px;text-align:center;font-size:12px;line-height:16px;color:#fff;font-weight:bold;">发展调整</div>
<div class="t" style="left:1050.3px;top:501.3px;width:140px;text-align:center;font-size:12px;line-height:16px;color:#1f3c99;font-weight:bold;-webkit-text-stroke:0.25px #1f3c99;">分析与制定阶段</div>
<div class="t" style="left:1223.0px;top:501.8px;width:100px;text-align:center;font-size:12px;line-height:16px;color:#1f3c99;font-weight:bold;-webkit-text-stroke:0.25px #1f3c99;">执行阶段</div>
<div class="t" style="left:1322.6px;top:501.8px;width:100px;text-align:center;font-size:12px;line-height:16px;color:#1f3c99;font-weight:bold;-webkit-text-stroke:0.25px #1f3c99;">评估阶段</div>
<div class="t" style="left:1422.3px;top:501.8px;width:100px;text-align:center;font-size:12px;line-height:16px;color:#1f3c99;font-weight:bold;-webkit-text-stroke:0.25px #1f3c99;">调整阶段</div>
<div class="t" style="left:1100.0px;top:553.3px;width:200px;text-align:center;font-size:12px;line-height:16px;color:#111;-webkit-text-stroke:0.35px #111;">职业规划辅导流程</div>
<div class="t hd" style="left:923.0px;top:671.9px;font-size:12px;line-height:16px;color:#1a32a8;font-weight:bold;-webkit-text-stroke:0.3px #1a32a8;">员工洽谈</div>
<div class="it" style="left:923.0px;top:687.0px;">·制定帮扶<span class="ql">“</span>师傅<span class="qr">”</span></div>
<div class="it" style="left:923.0px;top:697.5px;">·员工洽谈，了解员工</div>
<div class="it" style="left:928.0px;top:708.0px;">职业规划、岗位职责</div>
<div class="t hd" style="left:1021.5px;top:613.7px;font-size:12px;line-height:16px;color:#1a32a8;font-weight:bold;-webkit-text-stroke:0.3px #1a32a8;"><span class="ql">“</span>共同<span class="qr">”</span>制定培养方案</div>
<div class="it" style="left:1021.5px;top:630.0px;"><span class="ql">“</span>帮扶师傅<span class="qr">”</span>和员工共同制定</div>
<div class="it" style="left:1021.5px;top:640.1px;">整体培养方案，时间一般小</div>
<div class="it" style="left:1021.5px;top:650.2px;">于1年，包含各个阶段时间，</div>
<div class="it" style="left:1021.5px;top:660.3px;">学习任务，工作任务目标</div>
<div class="t hd" style="left:1168.0px;top:594.7px;font-size:12px;line-height:16px;color:#1a32a8;font-weight:bold;-webkit-text-stroke:0.3px #1a32a8;">培养方式实施</div>
<div class="it" style="left:1168.0px;top:610.1px;">依据培养阶段时间，目标，</div>
<div class="it" style="left:1168.0px;top:620.2px;">每个月进行总结和考核</div>
<div class="t hd" style="left:1251.7px;top:662.5px;font-size:12px;line-height:16px;color:#1a32a8;font-weight:bold;-webkit-text-stroke:0.3px #1a32a8;">培养效果评估</div>
<div class="it" style="left:1251.7px;top:678.4px;">被培养人就整个培养过程进行总结、</div>
<div class="it" style="left:1251.7px;top:688.5px;">阐述，由师傅、主管和部门经理结合</div>
<div class="it" style="left:1251.7px;top:698.7px;">培养过程进行综合评估</div>
<div class="t hd" style="left:1089.7px;top:752.5px;width:200px;text-align:center;font-size:12px;line-height:16px;color:#111;-webkit-text-stroke:0.35px #111;"><span class="ql">“</span>师徒制<span class="qr">”</span>员工培养</div>
<svg class="ov" width="1600" height="1085" viewBox="0 0 1600 1085"><defs><clipPath id="cPh"><rect x="1243" y="844.3" width="280.5999999999999" height="164.5"/></clipPath><clipPath id="cPL"><circle cx="1384" cy="859.5" r="16.5"/></clipPath><linearGradient id="gWall" x1="0" y1="0" x2="1" y2="0"><stop offset="0" stop-color="#d3dcda"/><stop offset="0.45" stop-color="#e4eaea"/><stop offset="1" stop-color="#e6ebeb"/></linearGradient></defs><g clip-path="url(#cPh)"><rect x="1243" y="844.3" width="280.5999999999999" height="164.5" fill="url(#gWall)"/><rect x="1252.0" y="844.3" width="1.3" height="125" fill="#f5f8f8" opacity="0.85"/><rect x="1276.2" y="844.3" width="1.3" height="125" fill="#f5f8f8" opacity="0.85"/><rect x="1300.4" y="844.3" width="1.3" height="125" fill="#f5f8f8" opacity="0.85"/><rect x="1324.6" y="844.3" width="1.3" height="125" fill="#f5f8f8" opacity="0.85"/><rect x="1348.8" y="844.3" width="1.3" height="125" fill="#f5f8f8" opacity="0.85"/><rect x="1373.0" y="844.3" width="1.3" height="125" fill="#f5f8f8" opacity="0.85"/><rect x="1397.2" y="844.3" width="1.3" height="125" fill="#f5f8f8" opacity="0.85"/><rect x="1421.4" y="844.3" width="1.3" height="125" fill="#f5f8f8" opacity="0.85"/><rect x="1445.6" y="844.3" width="1.3" height="125" fill="#f5f8f8" opacity="0.85"/><rect x="1469.8" y="844.3" width="1.3" height="125" fill="#f5f8f8" opacity="0.85"/><rect x="1494.0" y="844.3" width="1.3" height="125" fill="#f5f8f8" opacity="0.85"/><rect x="1518.2" y="844.3" width="1.3" height="125" fill="#f5f8f8" opacity="0.85"/><rect x="1243" y="844.3" width="23" height="2.6" fill="#3a4646"/><rect x="1508" y="877" width="16" height="88" fill="#aab4b4"/><rect x="1508" y="895" width="16" height="12" fill="#dfe5e5"/><rect x="1508" y="930" width="16" height="26" fill="#3a5a9a"/><rect x="1511" y="945" width="10" height="7" fill="#4a8a5a"/><circle cx="1384" cy="859.5" r="17" fill="#f0f4f6"/><g clip-path="url(#cPL)"><rect x="1366" y="840" width="7.8" height="40" fill="#3f7cc8"/><rect x="1394.2" y="840" width="8" height="40" fill="#3f7cc8"/></g><circle cx="1384" cy="859.5" r="16.6" fill="none" stroke="#3f7cc8" stroke-width="1.3"/><line x1="1374.5" y1="850.6" x2="1393.5" y2="850.6" stroke="#3f7cc8" stroke-width="0.9"/><line x1="1374.5" y1="868.4" x2="1393.5" y2="868.4" stroke="#3f7cc8" stroke-width="0.9"/><polygon points="1375.6,851.5 1384,859.5 1375.6,867.5" fill="#3f7cc8"/><polygon points="1392.4,851.5 1384,859.5 1392.4,867.5" fill="#3f7cc8"/><path d="M1293.9,966 v-30 q0,-6 5,-7 h4 q5,1 5,7 v30z" fill="#b4dbd5"/><path d="M1305.8,966 v-30 q0,-6 5,-7 h4 q5,1 5,7 v30z" fill="#b4dbd5"/><path d="M1316.0,966 v-30 q0,-6 5,-7 h4 q5,1 5,7 v30z" fill="#b4dbd5"/><path d="M1326.4,966 v-30 q0,-6 5,-7 h4 q5,1 5,7 v30z" fill="#ead9c0"/><path d="M1338.3,966 v-30 q0,-6 5,-7 h4 q5,1 5,7 v30z" fill="#b4dbd5"/><path d="M1349.2,966 v-30 q0,-6 5,-7 h4 q5,1 5,7 v30z" fill="#2b3152"/><path d="M1361.2,966 v-30 q0,-6 5,-7 h4 q5,1 5,7 v30z" fill="#1f1f26"/><path d="M1374.4,966 v-30 q0,-6 5,-7 h4 q5,1 5,7 v30z" fill="#b4dbd5"/><path d="M1387.0,966 v-30 q0,-6 5,-7 h4 q5,1 5,7 v30z" fill="#c9d3cb"/><path d="M1398.3,966 v-30 q0,-6 5,-7 h4 q5,1 5,7 v30z" fill="#b4dbd5"/><path d="M1408.3,966 v-30 q0,-6 5,-7 h4 q5,1 5,7 v30z" fill="#b4dbd5"/><path d="M1420.1,966 v-30 q0,-6 5,-7 h4 q5,1 5,7 v30z" fill="#b4dbd5"/><path d="M1430.4,966 v-30 q0,-6 5,-7 h4 q5,1 5,7 v30z" fill="#b4dbd5"/><path d="M1441.1,966 v-30 q0,-6 5,-7 h4 q5,1 5,7 v30z" fill="#b4dbd5"/><path d="M1452.9,966 v-30 q0,-6 5,-7 h4 q5,1 5,7 v30z" fill="#b4dbd5"/><path d="M1464.0,966 v-30 q0,-6 5,-7 h4 q5,1 5,7 v30z" fill="#b4dbd5"/><path d="M1475.0,966 v-30 q0,-6 5,-7 h4 q5,1 5,7 v30z" fill="#b4dbd5"/><path d="M1485.9,966 v-30 q0,-6 5,-7 h4 q5,1 5,7 v30z" fill="#b4dbd5"/><path d="M1497.0,966 v-30 q0,-6 5,-7 h4 q5,1 5,7 v30z" fill="#b4dbd5"/><ellipse cx="1301.4" cy="921.0" rx="3.4" ry="4.4" fill="#e6c2aa"/><path d="M1297.8,920.0 q0,-4.3 3.6,-4.3 q3.6,0 3.6,4.3 q-3.6,-1.8 -7.2,0z" fill="#2a201c"/><ellipse cx="1311.8" cy="918.6" rx="3.4" ry="4.4" fill="#e6c2aa"/><path d="M1308.2,917.6 q0,-4.3 3.6,-4.3 q3.6,0 3.6,4.3 q-3.6,-1.8 -7.2,0z" fill="#2a201c"/><ellipse cx="1322.7" cy="917.9" rx="3.4" ry="4.4" fill="#e6c2aa"/><path d="M1319.1,916.9 q0,-4.3 3.6,-4.3 q3.6,0 3.6,4.3 q-3.6,-1.8 -7.2,0z" fill="#2a201c"/><ellipse cx="1334.3" cy="919.5" rx="3.4" ry="4.4" fill="#e6c2aa"/><path d="M1330.7,918.5 q0,-4.3 3.6,-4.3 q3.6,0 3.6,4.3 q-3.6,-1.8 -7.2,0z" fill="#2a201c"/><ellipse cx="1345.4" cy="921.4" rx="3.4" ry="4.4" fill="#e6c2aa"/><path d="M1341.8,920.4 q0,-4.3 3.6,-4.3 q3.6,0 3.6,4.3 q-3.6,-1.8 -7.2,0z" fill="#2a201c"/><ellipse cx="1357.5" cy="923.7" rx="3.4" ry="4.4" fill="#e6c2aa"/><path d="M1353.9,922.7 q0,-4.3 3.6,-4.3 q3.6,0 3.6,4.3 q-3.6,-1.8 -7.2,0z" fill="#2a201c"/><ellipse cx="1368.4" cy="920.5" rx="3.4" ry="4.4" fill="#e6c2aa"/><path d="M1364.8,919.5 q0,-4.3 3.6,-4.3 q3.6,0 3.6,4.3 q-3.6,-1.8 -7.2,0z" fill="#2a201c"/><ellipse cx="1381.5" cy="921.8" rx="3.4" ry="4.4" fill="#e6c2aa"/><path d="M1377.9,920.8 q0,-4.3 3.6,-4.3 q3.6,0 3.6,4.3 q-3.6,-1.8 -7.2,0z" fill="#2a201c"/><ellipse cx="1393.6" cy="919.5" rx="3.4" ry="4.4" fill="#e6c2aa"/><path d="M1390.0,918.5 q0,-4.3 3.6,-4.3 q3.6,0 3.6,4.3 q-3.6,-1.8 -7.2,0z" fill="#2a201c"/><ellipse cx="1404.5" cy="920.6" rx="3.4" ry="4.4" fill="#e6c2aa"/><path d="M1400.9,919.6 q0,-4.3 3.6,-4.3 q3.6,0 3.6,4.3 q-3.6,-1.8 -7.2,0z" fill="#2a201c"/><ellipse cx="1416.3" cy="918.8" rx="3.4" ry="4.4" fill="#e6c2aa"/><path d="M1412.7,917.8 q0,-4.3 3.6,-4.3 q3.6,0 3.6,4.3 q-3.6,-1.8 -7.2,0z" fill="#2a201c"/><ellipse cx="1426.5" cy="919.2" rx="3.4" ry="4.4" fill="#e6c2aa"/><path d="M1422.9,918.2 q0,-4.3 3.6,-4.3 q3.6,0 3.6,4.3 q-3.6,-1.8 -7.2,0z" fill="#2a201c"/><ellipse cx="1438.6" cy="921.3" rx="3.4" ry="4.4" fill="#e6c2aa"/><path d="M1435.0,920.3 q0,-4.3 3.6,-4.3 q3.6,0 3.6,4.3 q-3.6,-1.8 -7.2,0z" fill="#2a201c"/><ellipse cx="1448.5" cy="918.7" rx="3.4" ry="4.4" fill="#e6c2aa"/><path d="M1444.9,917.7 q0,-4.3 3.6,-4.3 q3.6,0 3.6,4.3 q-3.6,-1.8 -7.2,0z" fill="#2a201c"/><ellipse cx="1459.5" cy="917.8" rx="3.4" ry="4.4" fill="#e6c2aa"/><path d="M1455.9,916.8 q0,-4.3 3.6,-4.3 q3.6,0 3.6,4.3 q-3.6,-1.8 -7.2,0z" fill="#2a201c"/><ellipse cx="1471.4" cy="918.4" rx="3.4" ry="4.4" fill="#e6c2aa"/><path d="M1467.8,917.4 q0,-4.3 3.6,-4.3 q3.6,0 3.6,4.3 q-3.6,-1.8 -7.2,0z" fill="#2a201c"/><ellipse cx="1482.1" cy="919.7" rx="3.4" ry="4.4" fill="#e6c2aa"/><path d="M1478.5,918.7 q0,-4.3 3.6,-4.3 q3.6,0 3.6,4.3 q-3.6,-1.8 -7.2,0z" fill="#2a201c"/><ellipse cx="1492.6" cy="921.2" rx="3.4" ry="4.4" fill="#e6c2aa"/><path d="M1489.0,920.2 q0,-4.3 3.6,-4.3 q3.6,0 3.6,4.3 q-3.6,-1.8 -7.2,0z" fill="#2a201c"/><ellipse cx="1502.6" cy="920.7" rx="3.4" ry="4.4" fill="#e6c2aa"/><path d="M1499.0,919.7 q0,-4.3 3.6,-4.3 q3.6,0 3.6,4.3 q-3.6,-1.8 -7.2,0z" fill="#2a201c"/><g fill="#3d6f36"><ellipse cx="1283" cy="952" rx="6" ry="3" transform="rotate(-30 1283 952)"/><ellipse cx="1291" cy="950" rx="6" ry="2.6" transform="rotate(35 1291 950)"/><ellipse cx="1287" cy="957" rx="7" ry="4"/></g><path d="M1248.6,968 q0,-6 6,-7 h7 q6,1 6,7z" fill="#d9eeec"/><ellipse cx="1258.1" cy="955.6" rx="4" ry="5" fill="#e6c2aa"/><path d="M1253.8,954.3 q0,-5 4.3,-5 q4.3,0 4.3,5 q-4.3,-2 -8.6,0z" fill="#1e1916"/><path d="M1268.1,968 q0,-6 6,-7 h7 q6,1 6,7z" fill="#d9eeec"/><ellipse cx="1277.6" cy="955.1" rx="4" ry="5" fill="#e6c2aa"/><path d="M1273.3,953.8 q0,-5 4.3,-5 q4.3,0 4.3,5 q-4.3,-2 -8.6,0z" fill="#1e1916"/><path d="M1289.2,968 q0,-6 6,-7 h7 q6,1 6,7z" fill="#d9eeec"/><ellipse cx="1298.7" cy="956.7" rx="4" ry="5" fill="#e6c2aa"/><path d="M1294.4,955.4 q0,-5 4.3,-5 q4.3,0 4.3,5 q-4.3,-2 -8.6,0z" fill="#1e1916"/><path d="M1306.9,968 q0,-6 6,-7 h7 q6,1 6,7z" fill="#d9eeec"/><ellipse cx="1316.4" cy="957.0" rx="4" ry="5" fill="#e6c2aa"/><path d="M1312.1,955.7 q0,-5 4.3,-5 q4.3,0 4.3,5 q-4.3,-2 -8.6,0z" fill="#1e1916"/><path d="M1326.0,968 q0,-6 6,-7 h7 q6,1 6,7z" fill="#d9eeec"/><ellipse cx="1335.5" cy="955.5" rx="4" ry="5" fill="#e6c2aa"/><path d="M1331.2,954.2 q0,-5 4.3,-5 q4.3,0 4.3,5 q-4.3,-2 -8.6,0z" fill="#1e1916"/><path d="M1346.9,968 q0,-6 6,-7 h7 q6,1 6,7z" fill="#d9eeec"/><ellipse cx="1356.4" cy="956.2" rx="4" ry="5" fill="#e6c2aa"/><path d="M1352.1,954.9 q0,-5 4.3,-5 q4.3,0 4.3,5 q-4.3,-2 -8.6,0z" fill="#1e1916"/><path d="M1364.3,968 q0,-6 6,-7 h7 q6,1 6,7z" fill="#d9eeec"/><ellipse cx="1373.8" cy="957.3" rx="4" ry="5" fill="#e6c2aa"/><path d="M1369.5,956.0 q0,-5 4.3,-5 q4.3,0 4.3,5 q-4.3,-2 -8.6,0z" fill="#1e1916"/><path d="M1383.9,968 q0,-6 6,-7 h7 q6,1 6,7z" fill="#d9eeec"/><ellipse cx="1393.4" cy="955.1" rx="4" ry="5" fill="#e6c2aa"/><path d="M1389.1,953.8 q0,-5 4.3,-5 q4.3,0 4.3,5 q-4.3,-2 -8.6,0z" fill="#1e1916"/><path d="M1404.6,968 q0,-6 6,-7 h7 q6,1 6,7z" fill="#d9eeec"/><ellipse cx="1414.1" cy="955.3" rx="4" ry="5" fill="#e6c2aa"/><path d="M1409.8,954.0 q0,-5 4.3,-5 q4.3,0 4.3,5 q-4.3,-2 -8.6,0z" fill="#1e1916"/><path d="M1422.7,968 q0,-6 6,-7 h7 q6,1 6,7z" fill="#d9eeec"/><ellipse cx="1432.2" cy="954.5" rx="4" ry="5" fill="#e6c2aa"/><path d="M1427.9,953.2 q0,-5 4.3,-5 q4.3,0 4.3,5 q-4.3,-2 -8.6,0z" fill="#1e1916"/><path d="M1441.5,968 q0,-6 6,-7 h7 q6,1 6,7z" fill="#d9eeec"/><ellipse cx="1451.0" cy="956.0" rx="4" ry="5" fill="#e6c2aa"/><path d="M1446.7,954.7 q0,-5 4.3,-5 q4.3,0 4.3,5 q-4.3,-2 -8.6,0z" fill="#1e1916"/><path d="M1461.2,968 q0,-6 6,-7 h7 q6,1 6,7z" fill="#d9eeec"/><ellipse cx="1470.7" cy="956.1" rx="4" ry="5" fill="#e6c2aa"/><path d="M1466.4,954.8 q0,-5 4.3,-5 q4.3,0 4.3,5 q-4.3,-2 -8.6,0z" fill="#1e1916"/><path d="M1480.8,968 q0,-6 6,-7 h7 q6,1 6,7z" fill="#d9eeec"/><ellipse cx="1490.3" cy="955.7" rx="4" ry="5" fill="#e6c2aa"/><path d="M1486.0,954.4 q0,-5 4.3,-5 q4.3,0 4.3,5 q-4.3,-2 -8.6,0z" fill="#1e1916"/><path d="M1501.5,968 q0,-6 6,-7 h7 q6,1 6,7z" fill="#d9eeec"/><ellipse cx="1511.0" cy="955.8" rx="4" ry="5" fill="#e6c2aa"/><path d="M1506.7,954.5 q0,-5 4.3,-5 q4.3,0 4.3,5 q-4.3,-2 -8.6,0z" fill="#1e1916"/><polygon points="1243,966 1520,962 1523.6,963 1523.6,995.5 1520,996.5 1243,1001.8" fill="#e44a82"/><polygon points="1243,1001.8 1523.6,995.5 1523.6,1008.8 1243,1008.8" fill="#d4d9da"/></g></svg>
<div class="t" style="left:1299.5px;top:879.3px;font-size:14.15px;line-height:20px;color:#2c5aaa;font-weight:bold;letter-spacing:-0.05px;">武汉盛帆电子股份有限公司</div>
<div class="t" style="left:1300px;top:896.3px;font-size:7.4px;line-height:10px;color:#34558f;font-weight:bold;letter-spacing:0.42px;">WUHAN SANFRAN ELECTRONICS CO.,LTD.</div>
<div class="t" style="left:1243px;top:973px;font-size:13.2px;line-height:20px;color:#fff;font-weight:bold;transform:scaleY(1.38) rotate(-1deg);transform-origin:0 50%;letter-spacing:-0.2px;">武汉盛帆电子股份有限公司第二届职工技能大赛</div>
</body></html>
